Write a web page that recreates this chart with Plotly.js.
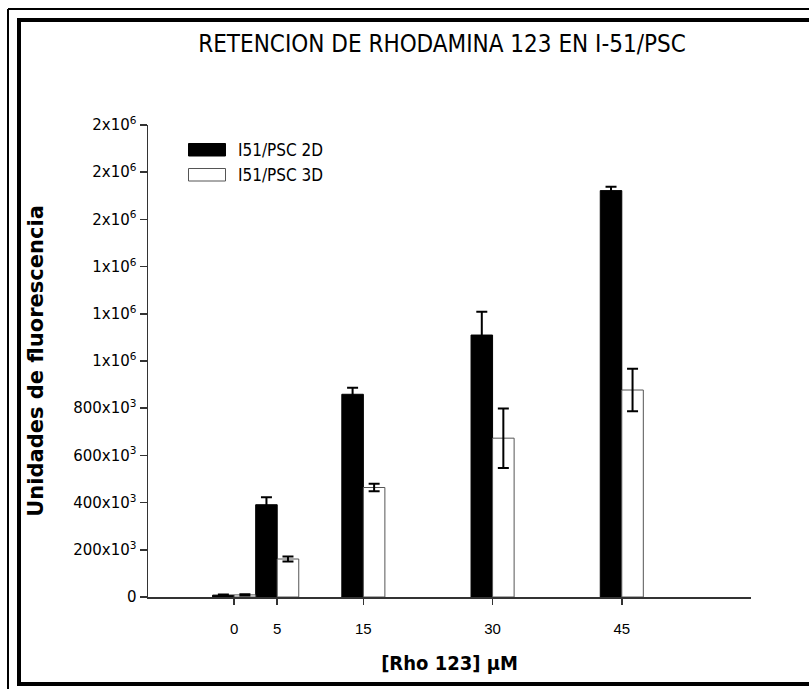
<!DOCTYPE html>
<html>
<head>
<meta charset="utf-8">
<script src="https://cdn.plot.ly/plotly-3.0.1.min.js"></script>
<style>html,body{margin:0;padding:0;background:#fff;}#chart{width:809px;height:689px;}</style>
</head>
<body>
<div id="chart"></div>
<script>
// ---- data ----
const concentrations = [0, 5, 15, 30, 45];
const series2DName = "I51/PSC 2D";
const series3DName = "I51/PSC 3D";
const values2D = [8000, 391000, 859000, 1110000, 1722000];
const errors2D = [3000, 32000, 28000, 99000, 16000];
const values3D = [9000, 161000, 464000, 673000, 877000];
const errors3D = [3000, 11000, 16000, 126000, 90000];
const yTickVals = [0, 200000, 400000, 600000, 800000, 1000000, 1200000, 1400000, 1600000, 1800000, 2000000];
const yTickText = ["0", "200x10<sup>3</sup>", "400x10<sup>3</sup>", "600x10<sup>3</sup>", "800x10<sup>3</sup>",
  "1x10<sup>6</sup>", "1x10<sup>6</sup>", "1x10<sup>6</sup>", "2x10<sup>6</sup>", "2x10<sup>6</sup>", "2x10<sup>6</sup>"];
const xTickText = ["0", "5", "15", "30", "45"];
const chartTitle = "RETENCION DE RHODAMINA 123 EN I-51/PSC";
const xTitle = "[Rho 123] µM";
const yTitle = "Unidades de fluorescencia";

// ---- layout helpers (pixel -> paper) ----
const W = 809, H = 689, L = 148, R = 58, T = 125, B = 92;
const pw = W - L - R, ph = H - T - B;
const px = x => (x - L) / pw;
const py = y => (H - B - y) / ph;

const condensed = "DejaVu Sans Condensed, DejaVu Sans, sans-serif";

const traces = [
  {
    type: "bar", name: series2DName, x: concentrations, y: values2D,
    width: 2.5, offset: -2.5,
    marker: {color: "#000000", line: {color: "#000000", width: 1}},
    error_y: {type: "data", array: errors2D, visible: true, color: "#000000", thickness: 2, width: 5.5}
  },
  {
    type: "bar", name: series3DName, x: concentrations, y: values3D,
    width: 2.5, offset: 0,
    marker: {color: "#ffffff", line: {color: "#555555", width: 1}},
    error_y: {type: "data", array: errors3D, visible: true, color: "#000000", thickness: 2, width: 5.5}
  }
];

const layout = {
  width: W, height: H,
  margin: {l: L, r: R, t: T, b: B, pad: 0},
  paper_bgcolor: "#ffffff", plot_bgcolor: "#ffffff",
  showlegend: false,
  barmode: "group",
  title: {
    text: chartTitle, font: {family: condensed, size: 24, color: "#000"},
    x: 442 / W, xref: "container", xanchor: "center",
    y: 1 - 44 / H, yref: "container", yanchor: "middle"
  },
  xaxis: {
    range: [-10, 60], showgrid: false, zeroline: false,
    showline: true, linecolor: "#333333", linewidth: 1.5,
    tickmode: "array", tickvals: concentrations, ticktext: xTickText,
    ticks: "outside", ticklen: 6, tickcolor: "#333333", tickwidth: 1.5,
    ticklabelstandoff: 11,
    tickfont: {family: "Liberation Sans, Arial, sans-serif", size: 15, color: "#000"},
    title: {text: xTitle, font: {family: condensed, size: 20, color: "#000", weight: "bold"}, standoff: 20}
  },
  yaxis: {
    range: [0, 2000000], showgrid: false, zeroline: false,
    showline: true, linecolor: "#333333", linewidth: 1.5,
    tickmode: "array", tickvals: yTickVals, ticktext: yTickText,
    ticks: "outside", ticklen: 7, tickcolor: "#333333", tickwidth: 1.5,
    tickfont: {family: "DejaVu Sans, Verdana, sans-serif", size: 15, color: "#000"},
    title: {text: yTitle, font: {family: "DejaVu Sans, Verdana, sans-serif", size: 21, color: "#000", weight: "bold"}, standoff: 24}
  },
  shapes: [
    // outer thin frame
    {type: "line", xref: "paper", yref: "paper", x0: px(8), x1: px(8), y0: py(9), y1: py(700), line: {color: "#000", width: 2}},
    {type: "line", xref: "paper", yref: "paper", x0: px(8), x1: px(820), y0: py(9), y1: py(9), line: {color: "#000", width: 2}},
    // inner thick frame
    {type: "line", xref: "paper", yref: "paper", x0: px(19), x1: px(19), y0: py(18), y1: py(686), line: {color: "#000", width: 4}},
    {type: "line", xref: "paper", yref: "paper", x0: px(17), x1: px(820), y0: py(20), y1: py(20), line: {color: "#000", width: 4}},
    {type: "line", xref: "paper", yref: "paper", x0: px(17), x1: px(820), y0: py(684), y1: py(684), line: {color: "#000", width: 4}},
    // legend swatches
    {type: "rect", xref: "paper", yref: "paper", x0: px(188.5), x1: px(225.5), y0: py(156), y1: py(143.5), fillcolor: "#000", line: {color: "#000", width: 1}},
    {type: "rect", xref: "paper", yref: "paper", x0: px(188.5), x1: px(225.5), y0: py(181), y1: py(168.5), fillcolor: "#fff", line: {color: "#555", width: 1}}
  ],
  annotations: [
    {xref: "paper", yref: "paper", x: px(236), y: py(150), xanchor: "left", yanchor: "middle", showarrow: false,
     text: series2DName, font: {family: condensed, size: 17, color: "#000"}},
    {xref: "paper", yref: "paper", x: px(236), y: py(175), xanchor: "left", yanchor: "middle", showarrow: false,
     text: series3DName, font: {family: condensed, size: 17, color: "#000"}}
  ]
};

Plotly.newPlot("chart", traces, layout, {staticPlot: true, displayModeBar: false});
</script>
</body>
</html>
